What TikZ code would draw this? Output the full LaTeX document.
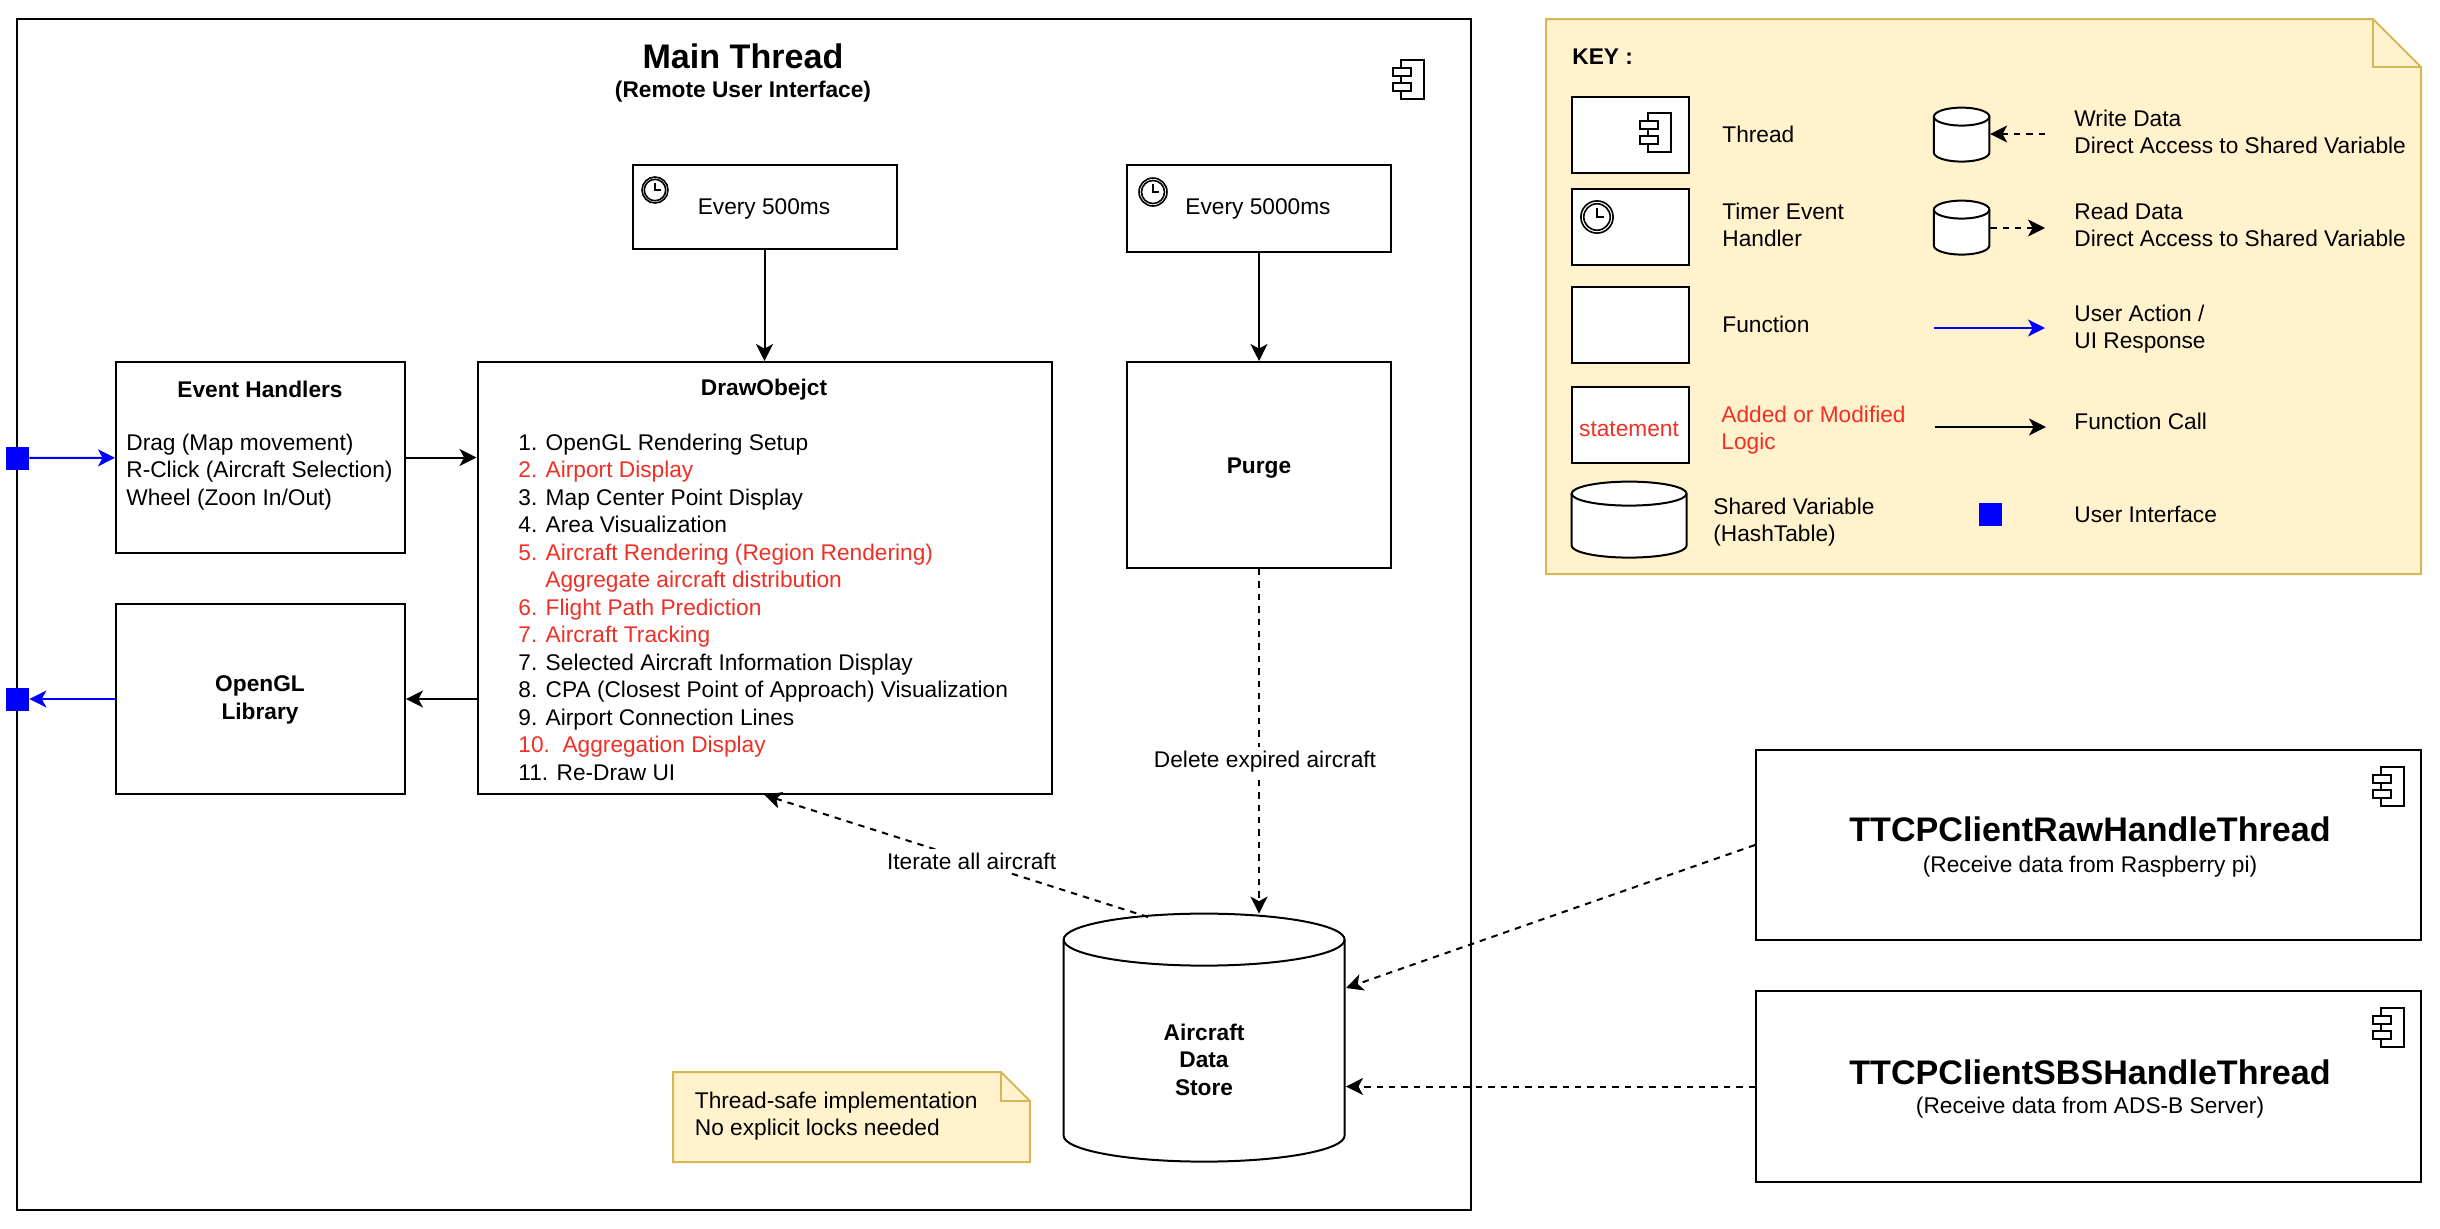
\documentclass[tikz,border=0pt]{standalone}
\usepackage{fontspec}
\setmainfont{Liberation Sans}
\usetikzlibrary{arrows.meta,positioning}
\definecolor{notefill}{HTML}{FFF2CC}
\definecolor{noteline}{HTML}{D6B656}
\definecolor{addedred}{HTML}{EE3026}
\tikzset{
  bodyfont/.style={font=\fontsize{11.35}{13.75}\selectfont},
  boldfont/.style={font=\fontsize{11.35}{13.75}\selectfont\bfseries},
  bigfont/.style={font=\fontsize{17.05}{20}\selectfont\bfseries},
  txt/.style={bodyfont,inner sep=0pt,align=left},
  box/.style={draw,line width=1pt,fill=white,minimum width=#1,inner sep=0pt,rectangle},
  call/.style={line width=1pt,-{Stealth[length=8.5pt,width=8.5pt,inset=2.3pt]}},
  useraction/.style={call,draw=blue},
  access/.style={call,dash pattern=on 3.2pt off 3pt},
  uisquare/.style={fill=blue,minimum width=11.5pt,minimum height=11.5pt,inner sep=0pt,rectangle},
  threadicon/.pic={
    \draw[line width=.8pt,fill=white] (8,0) rectangle (31,39);
    \draw[line width=.8pt,fill=white] (0,8) rectangle (18,16);
    \draw[line width=.8pt,fill=white] (0,23) rectangle (18,31);
  },
  clockicon/.pic={
    \draw[line width=.8pt,fill=white] (0,0) circle [radius=14];
    \draw[line width=.8pt] (0,0) circle [radius=11.5];
    \draw[line width=.8pt] (0,-8) -- (0,0) -- (6,0);
  },
}
% node name, half width, end radius, straight part
\newcommand{\drawcyl}[4]{
  \draw[line width=1pt,fill=white] (#1.north west) ++(0,#3) arc[start angle=180,end angle=360,x radius=#2,y radius=#3] -- ++(0,#4) arc[start angle=0,end angle=180,x radius=#2,y radius=#3] -- cycle;
  \draw[line width=1pt] (#1.north west) ++(0,#3) arc[start angle=180,end angle=0,x radius=#2,y radius=#3];
}
\begin{document}
\begin{tikzpicture}[x=.5pt,y=-.5pt]
\useasboundingbox (0,0) rectangle (2440,1228);
% main thread frame
\draw[line width=1pt] (17,19) rectangle (1471,1210);
\node[bigfont] (maintitle) at (743,56) {Main Thread};
\node[boldfont] (mainsub) at (743,91.5) {(Remote User Interface)};
\pic at (1393,60) {threadicon};
% timers
\node[box=132pt,minimum height=42pt] (timerA) at (764.5,207) {};
\node[box=132pt,minimum height=43.5pt] (timerB) at (1259,208.5) {};
\node[txt] (timerAtext) at (764,209) {Every 500ms};
\node[txt] (timerBtext) at (1258,209) {Every 5000ms};
\pic[scale=.93] at (655,190) {clockicon};
\pic at (1153,192) {clockicon};
% functions
\node[box=144.5pt,minimum height=95.5pt] (eventh) at (260.5,457.5) {};
\node[box=287pt,minimum height=216pt] (drawobj) at (764.5,578) {};
\node[box=132pt,minimum height=103pt] (purge) at (1259,465) {};
\node[box=144.5pt,minimum height=95pt] (opengl) at (260.5,699) {};
\node[boldfont] (eventtitle) at (260,389) {Event Handlers};
\node[txt,anchor=north west] (eventlist) at (126,433.5) {Drag (Map movement)\\R-Click (Aircraft Selection)\\Wheel (Zoon In/Out)};
\node[boldfont] (drawtitle) at (764,389.5) {DrawObejct};
\node[txt,anchor=north west] (drawlist) at (518,433.5) {1. OpenGL Rendering Setup\\
\textcolor{addedred}{2. Airport Display}\\
3. Map Center Point Display\\
4. Area Visualization\\
\textcolor{addedred}{5. Aircraft Rendering (Region Rendering)}\\
\textcolor{addedred}{\hspace*{13.5pt}Aggregate aircraft distribution}\\
\textcolor{addedred}{6. Flight Path Prediction}\\
\textcolor{addedred}{7. Aircraft Tracking}\\
7. Selected Aircraft Information Display\\
8. CPA (Closest Point of Approach) Visualization\\
9. Airport Connection Lines\\
\textcolor{addedred}{10.\ \ Aggregation Display}\\
11. Re-Draw UI};
\node[boldfont] (purgetext) at (1259,468) {Purge};
\node[boldfont,align=center] (opengltext) at (260,700) {OpenGL\\Library};
% ui squares
\node[uisquare] (uiA) at (17.5,458) {};
\node[uisquare] (uiB) at (17.5,699) {};
% data store
\node[minimum width=140.5pt,minimum height=124pt,inner sep=0pt] (datastore) at (1204.5,1038) {};
\drawcyl{datastore}{140.5}{26}{196}
\node[boldfont,align=center] (storetext) at (1204,1059.5) {Aircraft\\Data\\Store};
% note
\draw[line width=1pt,draw=noteline,fill=notefill] (673,1072) -- (1001,1072) -- (1030,1101) -- (1030,1162) -- (673,1162) -- cycle;
\draw[line width=1pt,draw=noteline] (1001,1072) -- (1001,1101) -- (1030,1101);
\node[txt,anchor=west] (notetext) at (694.5,1116) {Thread-safe implementation\\No explicit locks needed};
% outside threads
\node[box=332.5pt,minimum height=95pt] (rawthread) at (2088.5,845) {};
\node[box=332.5pt,minimum height=95.5pt] (sbsthread) at (2088.5,1086.5) {};
\pic at (2373,767) {threadicon};
\pic at (2373,1008) {threadicon};
\node[bigfont] (rawtitle) at (2090,829) {TTCPClientRawHandleThread};
\node[txt] (rawsub) at (2090,867) {(Receive data from Raspberry pi)};
\node[bigfont] (sbstitle) at (2090,1072.5) {TTCPClientSBSHandleThread};
\node[txt] (sbssub) at (2090,1108) {(Receive data from ADS-B Server)};
% connectors
\coordinate (iterfrom) at (1148,917);
\coordinate (rawto) at (1346,988);
\coordinate (sbsto) at (1346,1086.5);
\draw[call] (timerA) -- (drawobj);
\draw[call] (timerB) -- (purge);
\draw[useraction] (uiA) -- (eventh);
\draw[call] (eventh.east) -- (eventh.east -| drawobj.west);
\draw[call] (drawobj.west |- opengl) -- (opengl.east);
\draw[useraction] (opengl.west) -- (uiB);
\draw[access] (iterfrom) -- (drawobj.south) node[pos=.46,txt,fill=white,inner ysep=2pt] (iterlabel) {Iterate all aircraft};
\draw[access] (purge.south) -- (purge.south |- datastore.north) node[pos=.55,txt,fill=white,inner ysep=2pt,xshift=3pt,yshift=-1.5pt] (purgelabel) {Delete expired aircraft};
\draw[access] (rawthread.west) -- (rawto);
\draw[access] (sbsthread.west) -- (sbsto);
% key
\draw[line width=1pt,draw=noteline,fill=notefill] (1546,19) -- (2373,19) -- (2421,67) -- (2421,574) -- (1546,574) -- cycle;
\draw[line width=1pt,draw=noteline] (2373,19) -- (2373,67) -- (2421,67);
\node[boldfont,anchor=west,inner sep=0pt] (keytitle) at (1572,57) {KEY :};
\node[box=58.5pt,minimum height=38pt] (keythread) at (1630.5,135) {};
\node[box=58.5pt,minimum height=38pt] (keytimer) at (1630.5,227) {};
\node[box=58.5pt,minimum height=38pt] (keyfunc) at (1630.5,325) {};
\node[box=58.5pt,minimum height=38pt] (keyadded) at (1630.5,425) {};
\node[txt,text=addedred] (keyaddedstmt) at (1629,429) {statement};
\node[minimum width=57.5pt,minimum height=38pt,inner sep=0pt] (keystore) at (1629.5,520) {};
\drawcyl{keystore}{57.5}{12}{52}
\node[minimum width=27.75pt,minimum height=27pt,inner sep=0pt] (keywrite) at (1962,135) {};
\drawcyl{keywrite}{27.75}{9}{36}
\node[minimum width=27.75pt,minimum height=27pt,inner sep=0pt] (keyread) at (1962,228) {};
\drawcyl{keyread}{27.75}{9}{36}
\pic at (1640,113) {threadicon};
\pic[scale=1.15] at (1597,217) {clockicon};
\node[txt,anchor=west] (keythreadtext) at (1722,134) {Thread};
\node[txt,anchor=west] (keytimertext) at (1722,225) {Timer Event\\Handler};
\node[txt,anchor=west] (keyfunctext) at (1722,324) {Function};
\node[txt,anchor=west,text=addedred] (keyaddedtext) at (1721,430) {Added or Modified\\Logic};
\node[txt,anchor=west] (keystoretext) at (1713,522) {Shared Variable\\(HashTable)};
\coordinate (writefrom) at (2045,134);
\coordinate (readto) at (2045,228);
\coordinate (bluefrom) at (1934,328);
\coordinate (blueto) at (2045,328);
\coordinate (blackfrom) at (1935,427);
\coordinate (blackto) at (2046,427);
\draw[access] (writefrom) -- (writefrom -| keywrite.east);
\draw[access] (readto -| keyread.east) -- (readto);
\draw[useraction] (bluefrom) -- (blueto);
\draw[call] (blackfrom) -- (blackto);
\node[uisquare] (keyui) at (1990.5,514.5) {};
\node[txt,anchor=west] (keywritetext) at (2074,132) {Write Data\\Direct Access to Shared Variable};
\node[txt,anchor=west] (keyreadtext) at (2074,225) {Read Data\\Direct Access to Shared Variable};
\node[txt,anchor=west] (keyusertext) at (2074,329) {User Action /\\UI Response};
\node[txt,anchor=west] (keycalltext) at (2074,421) {Function Call};
\node[txt,anchor=west] (keyuitext) at (2074,514) {User Interface};
\end{tikzpicture}
\end{document}
